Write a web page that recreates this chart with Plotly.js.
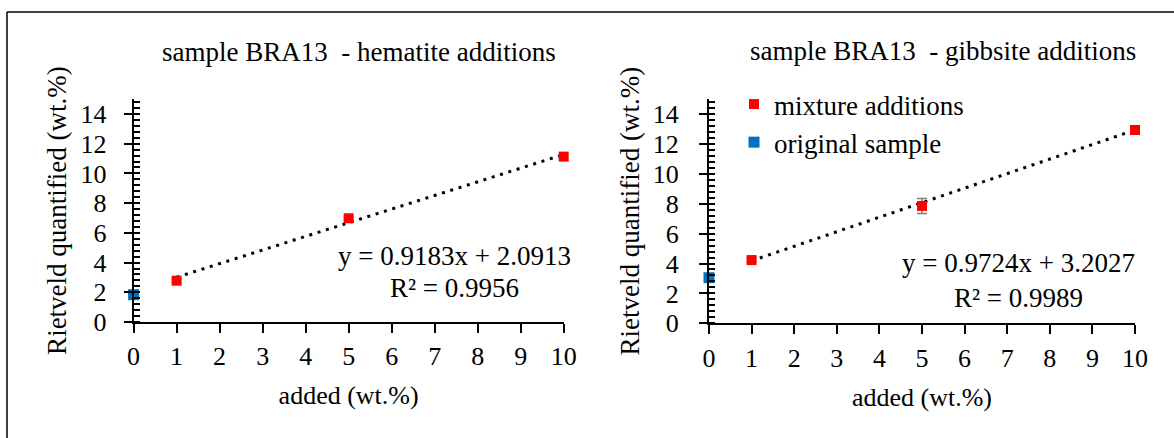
<!DOCTYPE html>
<html>
<head>
<meta charset="utf-8">
<script src="https://cdn.plot.ly/plotly-3.0.1.min.js"></script>
</head>
<body style="margin:0">
<div id="chart" style="width:1174px;height:438px"></div>
<script>
// ---- data ----
const addedX = [1, 5, 10];
const hemMixY = [2.78, 6.98, 11.13];
const hemMixErr = [0.1, 0.1, 0.1];
const hemOrigX = [0];
const hemOrigY = [1.84];
const hemTrendX = [1, 10];
const hemTrendY = [3.01, 11.27];
const hemEq = "y = 0.9183x + 2.0913";
const hemR2 = "R² = 0.9956";

const gibMixY = [4.23, 7.85, 12.93];
const gibMixErr = [0.15, 0.5, 0.1];
const gibOrigX = [0];
const gibOrigY = [3.05];
const gibTrendX = [1, 10];
const gibTrendY = [4.18, 12.93];
const gibEq = "y = 0.9724x + 3.2027";
const gibR2 = "R² = 0.9989";

const xTickVals = [0,1,2,3,4,5,6,7,8,9,10];
const yTickVals = [0,2,4,6,8,10,12,14];

const titles = ["sample BRA13  - hematite additions", "sample BRA13  - gibbsite additions"];
const xTitle = "added (wt.%)";
const yTitle = "Rietveld quantified (wt.%)";
const legendNames = ["mixture additions", "original sample"];

// ---- styling ----
const SERIF = "Liberation Serif, serif";
const RED = "#ff0000", BLUE = "#0070c0";
const W = 1174, H = 438;

function trend(x, y, xa, ya) {
  return {x: x, y: y, xaxis: xa, yaxis: ya, mode: 'lines', showlegend: false, hoverinfo: 'skip',
    line: {color: '#000', width: 3, dash: '3px,5.7px'}};
}
function mix(y, err, xa, ya, show) {
  return {x: addedX, y: y, xaxis: xa, yaxis: ya, mode: 'markers', name: legendNames[0],
    legendgroup: 'mix', showlegend: show, cliponaxis: false,
    error_y: {type: 'data', array: err, visible: true, color: '#7f7f7f', thickness: 1.5, width: 5},
    marker: {symbol: 'square', size: 10, color: RED}};
}
function orig(x, y, xa, ya, show) {
  return {x: x, y: y, xaxis: xa, yaxis: ya, mode: 'markers', name: legendNames[1],
    legendgroup: 'orig', showlegend: show, cliponaxis: false,
    marker: {symbol: 'square', size: 11, color: BLUE}};
}

const traces = [
  trend(hemTrendX, hemTrendY, 'x', 'y'),
  mix(hemMixY, hemMixErr, 'x', 'y', false),
  orig(hemOrigX, hemOrigY, 'x', 'y', false),
  trend(gibTrendX, gibTrendY, 'x2', 'y2'),
  mix(gibMixY, gibMixErr, 'x2', 'y2', true),
  orig(gibOrigX, gibOrigY, 'x2', 'y2', true)
];

const xd1 = [133.6/W, 563.7/W], xd2 = [709/W, 1135/W];
const yd1 = [(H-322)/H, (H-99.1)/H], yd2 = [(H-323.3)/H, (H-99.05)/H];

function xMain(dom, anchor, title) {
  return {domain: dom, anchor: anchor, range: [0, 10], tickvals: xTickVals, ticks: 'outside',
    ticklen: 9, tickwidth: 2, tickcolor: '#000', showline: true, linewidth: 2, linecolor: '#000',
    showgrid: false, zeroline: false, tickfont: {family: SERIF, size: 26, color: '#000'}, fixedrange: true,
    ticklabelstandoff: 1,
    title: {text: title, font: {family: SERIF, size: 26, color: '#000'}, standoff: 16}};
}
function xOver(over, anchor) {
  return {overlaying: over, anchor: anchor, range: [0, 10], tickvals: xTickVals, ticks: 'inside',
    ticklen: 9, tickwidth: 2, tickcolor: '#000', showline: false, showgrid: false, zeroline: false,
    showticklabels: false};
}
function yMain(dom, anchor, title, standoff, tstand) {
  return {domain: dom, anchor: anchor, range: [0, 15], tickvals: yTickVals, ticks: 'outside',
    ticklen: 8, tickwidth: 2, tickcolor: '#000', showline: true, linewidth: 2, linecolor: '#000',
    showgrid: false, zeroline: false, tickfont: {family: SERIF, size: 26, color: '#000'}, fixedrange: true,
    ticklabelstandoff: standoff,
    minor: {dtick: 0.4, tick0: 0, ticks: 'inside', ticklen: 6, tickwidth: 2, tickcolor: '#000', showgrid: false},
    title: {text: title, font: {family: SERIF, size: 27, color: '#000'}, standoff: tstand}};
}
function yOver(over, anchor) {
  return {overlaying: over, anchor: anchor, range: [0, 15], tickvals: yTickVals, ticks: 'inside',
    ticklen: 8, tickwidth: 2, tickcolor: '#000', showline: false, showgrid: false, zeroline: false,
    showticklabels: false};
}

function ann(text, x, y, size) {
  return {text: text, x: x / W, y: 1 - y / H, xref: 'paper', yref: 'paper', showarrow: false,
    xanchor: 'center', yanchor: 'middle', font: {family: SERIF, size: size, color: '#000'}};
}

const lay = {
  width: W, height: H,
  margin: {l: 0, r: 0, t: 0, b: 0},
  paper_bgcolor: '#fff', plot_bgcolor: 'rgba(0,0,0,0)',
  font: {family: SERIF, color: '#000'},
  showlegend: true,
  legend: {x: 734 / W, y: 1 - 80 / H, xanchor: 'left', yanchor: 'top', bgcolor: 'rgba(0,0,0,0)',
    font: {family: SERIF, size: 27, color: '#000'}, itemwidth: 30, tracegroupgap: 0},
  xaxis: xMain(xd1, 'y', xTitle),
  yaxis: yMain(yd1, 'x', yTitle, 12, 6),
  xaxis2: xMain(xd2, 'y2', xTitle),
  yaxis2: yMain(yd2, 'x2', yTitle, 15, 5),
  xaxis3: xOver('x', 'y'),
  yaxis3: yOver('y', 'x'),
  xaxis4: xOver('x2', 'y2'),
  yaxis4: yOver('y2', 'x2'),
  annotations: [
    ann(titles[0], 359, 52, 27),
    ann(titles[1], 943, 51, 27),
    ann(hemEq, 454.5, 256, 27),
    ann(hemR2, 454.5, 288, 27),
    ann(gibEq, 1018, 263, 27),
    ann(gibR2, 1018, 298, 27)
  ],
  shapes: [
    {type: 'line', xref: 'paper', yref: 'paper', x0: 7/W, x1: 7/W, y0: 0, y1: 1 - 12/H, line: {color: '#000', width: 1.5}},
    {type: 'line', xref: 'paper', yref: 'paper', x0: 7/W, x1: 1, y0: 1 - 12/H, y1: 1 - 12/H, line: {color: '#000', width: 1.5}}
  ]
};

Plotly.newPlot('chart', traces, lay, {displayModeBar: false});
</script>
</body>
</html>
